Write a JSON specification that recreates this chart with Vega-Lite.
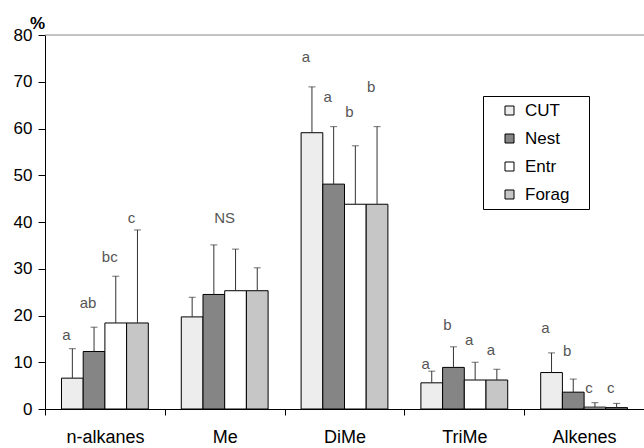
{
  "$schema": "https://vega.github.io/schema/vega-lite/v6.json",
  "width": 599,
  "height": 374,
  "autosize": "none",
  "padding": {"left": 45, "top": 35, "right": 0, "bottom": 39},
  "config": {
    "view": {"stroke": null},
    "font": "Liberation Sans",
    "axis": {"domainColor": "black", "tickColor": "black", "labelColor": "black", "grid": false}
  },
  "datasets": {
    "bars": [
      {"cat": "n-alkanes", "grp": "CUT", "mean": 6.6, "upper": 12.9, "letter": "a", "ly": 15.8},
      {"cat": "n-alkanes", "grp": "Nest", "mean": 12.3, "upper": 17.5, "letter": "ab", "ly": 22.7},
      {"cat": "n-alkanes", "grp": "Entr", "mean": 18.4, "upper": 28.4, "letter": "bc", "ly": 32.5},
      {"cat": "n-alkanes", "grp": "Forag", "mean": 18.4, "upper": 38.3, "letter": "c", "ly": 40.9},
      {"cat": "Me", "grp": "CUT", "mean": 19.7, "upper": 23.9},
      {"cat": "Me", "grp": "Nest", "mean": 24.5, "upper": 35.1},
      {"cat": "Me", "grp": "Entr", "mean": 25.3, "upper": 34.2},
      {"cat": "Me", "grp": "Forag", "mean": 25.3, "upper": 30.2},
      {"cat": "DiMe", "grp": "CUT", "mean": 59.1, "upper": 68.9, "letter": "a", "ly": 75.4},
      {"cat": "DiMe", "grp": "Nest", "mean": 48.1, "upper": 60.4, "letter": "a", "ly": 66.8},
      {"cat": "DiMe", "grp": "Entr", "mean": 43.8, "upper": 56.3, "letter": "b", "ly": 63.6},
      {"cat": "DiMe", "grp": "Forag", "mean": 43.8, "upper": 60.4, "letter": "b", "ly": 68.9},
      {"cat": "TriMe", "grp": "CUT", "mean": 5.6, "upper": 8.1, "letter": "a", "ly": 9.6},
      {"cat": "TriMe", "grp": "Nest", "mean": 8.9, "upper": 13.3, "letter": "b", "ly": 18.0},
      {"cat": "TriMe", "grp": "Entr", "mean": 6.2, "upper": 10.0, "letter": "a", "ly": 14.8},
      {"cat": "TriMe", "grp": "Forag", "mean": 6.2, "upper": 8.5, "letter": "a", "ly": 12.6},
      {"cat": "Alkenes", "grp": "CUT", "mean": 7.8, "upper": 12.0, "letter": "a", "ly": 17.4},
      {"cat": "Alkenes", "grp": "Nest", "mean": 3.6, "upper": 6.4, "letter": "b", "ly": 12.3},
      {"cat": "Alkenes", "grp": "Entr", "mean": 0.4, "upper": 1.35, "letter": "c", "ly": 4.4},
      {"cat": "Alkenes", "grp": "Forag", "mean": 0.3, "upper": 1.2, "letter": "c", "ly": 4.4}
    ],
    "ns": [{"cat": "Me", "label": "NS", "ly": 40.9}],
    "top": [{"v": 80}]
  },
  "layer": [
    {
      "data": {"name": "top"},
      "mark": {"type": "rule", "color": "#888888", "strokeWidth": 1},
      "encoding": {"y": {"field": "v", "type": "quantitative", "scale": {"domain": [0, 80]}}}
    },
    {
      "data": {"name": "bars"},
      "mark": {"type": "bar", "stroke": "black", "strokeWidth": 1},
      "encoding": {
        "x": {
          "field": "cat", "type": "nominal",
          "sort": ["n-alkanes", "Me", "DiMe", "TriMe", "Alkenes"],
          "scale": {"paddingInner": 0, "paddingOuter": 0},
          "axis": {"title": null, "labelFontSize": 18, "labelAngle": 0, "tickBand": "extent", "tickSize": 6, "labelPadding": 13}
        },
        "xOffset": {
          "field": "grp", "type": "nominal",
          "sort": ["CUT", "Nest", "Entr", "Forag"],
          "scale": {"paddingInner": 0, "paddingOuter": 0.76}
        },
        "y": {
          "field": "mean", "type": "quantitative",
          "scale": {"domain": [0, 80], "nice": false},
          "axis": {
            "values": [0, 10, 20, 30, 40, 50, 60, 70, 80],
            "title": "%", "titleAngle": 0, "titleX": -8, "titleY": -7, "titleAlign": "center",
            "titleBaseline": "alphabetic", "titleFontSize": 17, "titleFontWeight": "bold",
            "labelFontSize": 17, "tickSize": 7, "labelPadding": 6
          }
        },
        "fill": {
          "field": "grp", "type": "nominal",
          "sort": ["CUT", "Nest", "Entr", "Forag"],
          "scale": {"domain": ["CUT", "Nest", "Entr", "Forag"], "range": ["#ededed", "#858585", "#ffffff", "#c6c6c6"]},
          "legend": {
            "title": ".", "titleOrient": "right", "titleColor": "white", "titlePadding": 10, "titleFontSize": 12,
            "orient": "none", "legendX": 438, "legendY": 61,
            "strokeColor": "black", "fillColor": "white", "padding": 6,
            "symbolType": "square", "symbolSize": 81, "symbolStrokeColor": "black", "symbolStrokeWidth": 1,
            "symbolOffset": 12, "labelFontSize": 17, "labelColor": "black", "labelOffset": 7, "rowPadding": 10
          }
        }
      }
    },
    {
      "data": {"name": "bars"},
      "mark": {"type": "rule", "color": "#333333", "strokeWidth": 1},
      "encoding": {
        "x": {"field": "cat", "type": "nominal", "sort": ["n-alkanes", "Me", "DiMe", "TriMe", "Alkenes"]},
        "xOffset": {"field": "grp", "type": "nominal", "sort": ["CUT", "Nest", "Entr", "Forag"]},
        "y": {"field": "mean", "type": "quantitative"},
        "y2": {"field": "upper"}
      }
    },
    {
      "data": {"name": "bars"},
      "mark": {"type": "tick", "color": "#333333", "thickness": 1, "size": 7, "orient": "horizontal"},
      "encoding": {
        "x": {"field": "cat", "type": "nominal", "sort": ["n-alkanes", "Me", "DiMe", "TriMe", "Alkenes"]},
        "xOffset": {"field": "grp", "type": "nominal", "sort": ["CUT", "Nest", "Entr", "Forag"]},
        "y": {"field": "upper", "type": "quantitative"}
      }
    },
    {
      "data": {"name": "bars"},
      "transform": [{"filter": "datum.letter != null"}],
      "mark": {"type": "text", "fontSize": 15, "color": "#555555", "dx": -6, "baseline": "middle"},
      "encoding": {
        "x": {"field": "cat", "type": "nominal", "sort": ["n-alkanes", "Me", "DiMe", "TriMe", "Alkenes"]},
        "xOffset": {"field": "grp", "type": "nominal", "sort": ["CUT", "Nest", "Entr", "Forag"]},
        "y": {"field": "ly", "type": "quantitative"},
        "text": {"field": "letter"}
      }
    },
    {
      "data": {"name": "ns"},
      "mark": {"type": "text", "fontSize": 15, "color": "#555555", "baseline": "middle"},
      "encoding": {
        "x": {"field": "cat", "type": "nominal", "sort": ["n-alkanes", "Me", "DiMe", "TriMe", "Alkenes"]},
        "y": {"field": "ly", "type": "quantitative"},
        "text": {"field": "label"}
      }
    }
  ]
}
